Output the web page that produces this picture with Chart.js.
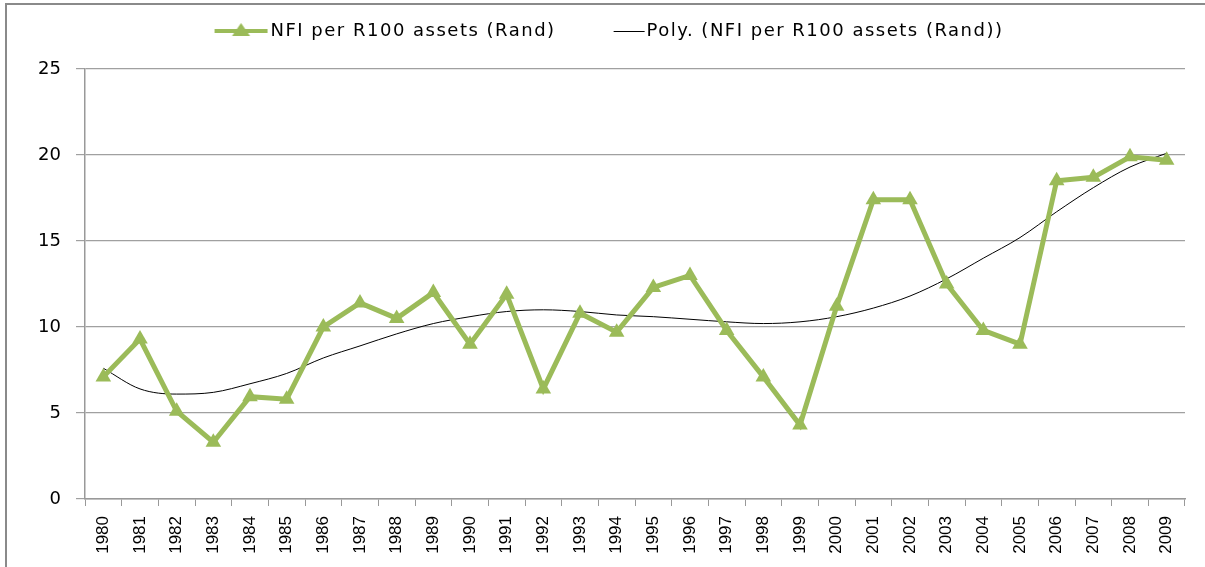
<!DOCTYPE html>
<html>
<head>
<meta charset="utf-8">
<script src="https://cdn.jsdelivr.net/npm/chart.js@4"></script>
<style>
  html, body { margin: 0; padding: 0; background: #fff; }
  #wrap { width: 1205px; height: 567px; position: relative; }
</style>
</head>
<body>
<div id="wrap"><canvas id="myChart" width="1205" height="567"></canvas></div>
<script>
// Dados do gráfico
const years = ["1980","1981","1982","1983","1984","1985","1986","1987","1988","1989",
  "1990","1991","1992","1993","1994","1995","1996","1997","1998","1999",
  "2000","2001","2002","2003","2004","2005","2006","2007","2008","2009"];
const nfiValues = [7.1, 9.3, 5.1, 3.3, 5.95, 5.8, 10.0, 11.4, 10.5, 12.0,
  9.0, 11.9, 6.4, 10.8, 9.7, 12.3, 13.0, 9.8, 7.1, 4.3,
  11.2, 17.4, 17.4, 12.5, 9.8, 9.0, 18.5, 18.7, 19.9, 19.7];
const trendValues = [7.6, 6.4, 6.1, 6.2, 6.7, 7.3, 8.2, 8.9, 9.6, 10.2,
  10.6, 10.9, 11.0, 10.9, 10.7, 10.6, 10.45, 10.3, 10.2, 10.3,
  10.6, 11.1, 11.8, 12.8, 14.0, 15.2, 16.7, 18.1, 19.3, 20.1];
const yTicks = [0, 5, 10, 15, 20, 25];

const green = "#9BBB59";
const fontName = "'DejaVu Sans', sans-serif";
const legendFont = 18;
const boxW = 80;

// simbolos da legenda (linha + marcador), desenhados numa imagem larga
// centrada na caixa da legenda
function legendIcon(kind) {
  const c = document.createElement("canvas");
  c.width = 200; c.height = 16;
  const g = c.getContext("2d");
  const textX = boxW + legendFont / 2;
  const off = 100 - boxW / 2;          // x da caixa dentro da imagem
  if (kind === "nfi") {
    const x0 = off + textX - 56, x1 = x0 + 53;
    g.strokeStyle = green; g.lineWidth = 4;
    g.beginPath(); g.moveTo(x0, 8); g.lineTo(x1, 8); g.stroke();
    const cx = (x0 + x1) / 2;
    g.fillStyle = green;
    g.beginPath(); g.moveTo(cx, 0); g.lineTo(cx + 9, 13); g.lineTo(cx - 9, 13); g.closePath(); g.fill();
  } else {
    const x0 = off + textX - 33, x1 = x0 + 31;
    g.strokeStyle = "#000"; g.lineWidth = 1;
    g.beginPath(); g.moveTo(x0, 8.5); g.lineTo(x1, 8.5); g.stroke();
  }
  return c;
}
const icons = [legendIcon("nfi"), legendIcon("poly")];

const framePlugin = {
  id: "frame",
  beforeDraw(chart) {
    const ctx = chart.ctx;
    ctx.save();
    ctx.fillStyle = "#fff";
    ctx.fillRect(0, 0, chart.width, chart.height);
    ctx.strokeStyle = "#8a8a8a";
    ctx.lineWidth = 2;
    ctx.strokeRect(6, 4, 1220, 620);
    ctx.restore();
  }
};

// espaço extra abaixo da legenda e texto um pouco mais espaçado
const legendTweak = {
  id: "legendTweak",
  beforeUpdate(chart) {
    const lg = chart.legend;
    if (!lg || lg._tweaked) return;
    lg._tweaked = true;
    const fit = lg.fit, draw = lg.draw;
    lg.fit = function () {
      this.ctx.letterSpacing = "1.5px";
      fit.call(this);
      this.ctx.letterSpacing = "0px";
      this.height += 19;
    };
    lg.draw = function () {
      this.ctx.letterSpacing = "1.5px";
      draw.call(this);
      this.ctx.letterSpacing = "0px";
    };
  }
};

const ctx = document.getElementById("myChart").getContext("2d");
const myChart = new Chart(ctx, {
  type: "line",
  data: {
    labels: years,
    datasets: [
      {
        label: "NFI per R100 assets (Rand)",
        data: nfiValues,
        borderColor: green,
        backgroundColor: green,
        borderWidth: 5,
        pointStyle: "triangle",
        pointRadius: 9,
        pointBorderWidth: 0,
        pointBackgroundColor: green,
        tension: 0
      },
      {
        label: "Poly. (NFI per R100 assets (Rand))",
        data: trendValues,
        borderColor: "#000",
        borderWidth: 1,
        pointRadius: 0,
        cubicInterpolationMode: "monotone",
        fill: false
      }
    ]
  },
  options: {
    responsive: false,
    animation: false,
    layout: { padding: { top: 20, right: 20, bottom: 0, left: 0 } },
    plugins: {
      tooltip: { enabled: false },
      legend: {
        position: "top",
        labels: {
          usePointStyle: true,
          pointStyleWidth: boxW,
          padding: 2,
          color: "#000",
          font: { family: fontName, size: legendFont },
          generateLabels(chart) {
            return chart.data.datasets.map((ds, i) => ({
              text: ds.label,
              pointStyle: icons[i],
              fillStyle: "transparent",
              strokeStyle: "transparent",
              lineWidth: 0,
              datasetIndex: i,
              fontColor: "#000"
            }));
          }
        }
      }
    },
    scales: {
      x: {
        offset: true,
        grid: { drawOnChartArea: false, drawTicks: true, tickLength: 7, offset: true, color: "#999" },
        border: { color: "#999", width: 1.5 },
        ticks: {
          color: "#000",
          font: { family: "'Liberation Sans', sans-serif", size: 17 },
          minRotation: 90, maxRotation: 90, autoSkip: false, padding: 10
        },
        afterFit(scale) { scale.height = 68; }
      },
      y: {
        min: 0, max: 25,
        afterBuildTicks(scale) { scale.ticks = yTicks.map(v => ({ value: v })); },
        grid: { color: "#a0a0a0", lineWidth: 1.2, tickLength: 9 },
        border: { color: "#999", width: 1.5 },
        ticks: {
          color: "#000",
          font: { family: fontName, size: 18 },
          padding: 15
        },
        afterFit(scale) { scale.width = 85; }
      }
    }
  },
  plugins: [framePlugin, legendTweak]
});
</script>
</body>
</html>
